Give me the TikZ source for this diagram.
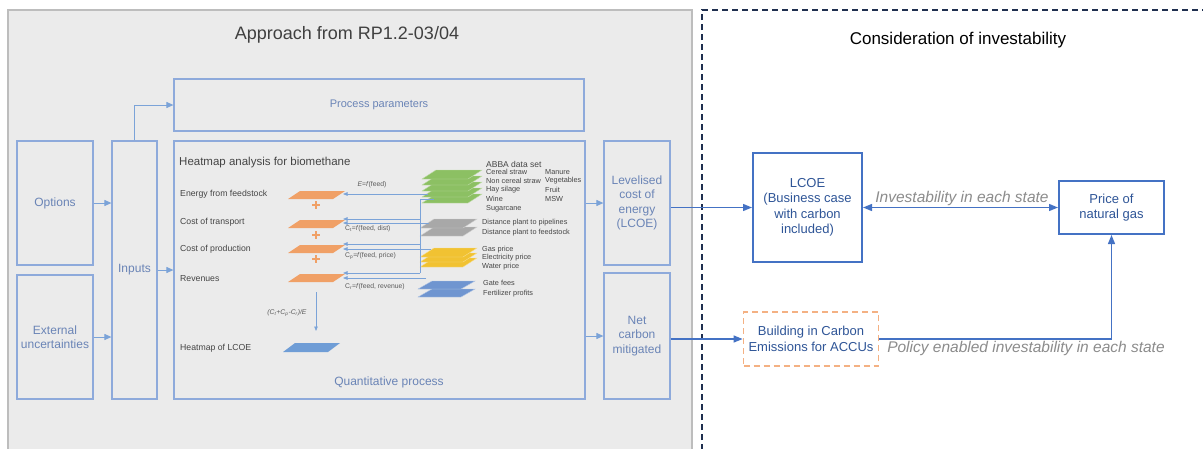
\documentclass[tikz,border=0pt]{standalone}
\usepackage{fontspec}
\setmainfont{Liberation Sans}
\usetikzlibrary{arrows.meta,calc}
\definecolor{panel}{HTML}{EBEBEB}
\definecolor{panelb}{HTML}{BDBDBD}
\definecolor{lb}{HTML}{8EAADB}
\definecolor{lbt}{HTML}{6A84B6}
\definecolor{la}{HTML}{7BA3D8}
\definecolor{db}{HTML}{4472C4}
\definecolor{dbt}{HTML}{2F5597}
\definecolor{navy}{HTML}{1F2F4F}
\definecolor{orgd}{HTML}{F4B183}
\definecolor{org}{HTML}{F0A066}
\definecolor{grn}{HTML}{8CC063}
\definecolor{gry}{HTML}{A8A8A8}
\definecolor{ylw}{HTML}{F1C232}
\definecolor{blu}{HTML}{6F95D0}
\definecolor{hblu}{HTML}{6F9DD6}
\definecolor{hl}{HTML}{454545}
\definecolor{fl}{HTML}{5A5A5A}
\definecolor{il}{HTML}{8C8C8C}
\definecolor{ttl}{HTML}{404040}
\newcommand{\fs}[2]{\fontsize{#1}{#2}\selectfont}
% parallelogram: x, ybottom, width, skew, height, style
\newcommand{\plg}[6]{\filldraw[#6] (#1,#2) -- ++(#3,0) -- ++(#4,-#5) -- ++(-#3,0) -- cycle;}
\begin{document}
\begin{tikzpicture}[x=1pt,y=-1pt,
 lbox/.style={draw=lb, line width=1.2pt, text=lbt, align=center, inner sep=0pt, font=\fs{12}{14.5}},
 dbox/.style={draw=db, line width=2pt, text=dbt, align=center, inner sep=0pt, font=\fs{13}{15.5}},
 arr/.style={draw=la, line width=1pt, -{Triangle[length=7pt,width=6pt]}},
 darr/.style={draw=db, line width=1.3pt, -{Triangle[length=9pt,width=7pt]}},
 harr/.style={draw=la, line width=0.8pt, -{Triangle[length=4.5pt,width=3.5pt]}},
 hlbl/.style={text=hl, font=\fs{8.7}{10}, anchor=west, inner sep=0pt},
 dlbl/.style={text=hl, font=\fs{7.3}{8}, anchor=west, inner sep=0pt},
 flbl/.style={text=fl, font=\fs{6.8}{8}, inner sep=0pt},
 ilbl/.style={text=il, font=\itshape\fs{15.5}{18}, inner sep=0pt},
 plus/.style={draw=org, line width=2.6pt},
 layer/.style={line width=0.4pt}
]
\useasboundingbox (0,0) rectangle (1203,448);
\begin{scope}
\clip (0,0) rectangle (1203,448);
\fill[white] (0,0) rectangle (1203,448);
% panels
\filldraw[fill=panel, draw=panelb, line width=1.5pt] (8,10) rectangle (692,470);
\draw[navy, line width=1.8pt, dash pattern=on 6pt off 4pt] (702,470) -- (702,10) -- (1215,10);
\end{scope}

\node[text=ttl, font=\fs{18}{20}] (title) at (347,35) {Approach from RP1.2-03/04};
\node[text=black, font=\fs{17}{20}] (title2) at (958,40) {Consideration of investability};

% left boxes
\node[lbox, font=\fs{11}{13}, minimum width=410pt, minimum height=52pt] (proc) at (379,105) {Process parameters};
\node[lbox, minimum width=76pt, minimum height=124pt] (opt) at (55,203) {Options};
\node[lbox, minimum width=76pt, minimum height=124pt] (ext) at (55,337) {External\\uncertainties};
\node[lbox, minimum width=45pt, minimum height=258pt] (inp) at (134.5,270) {Inputs};
\node[lbox, minimum width=411pt, minimum height=258pt] (heat) at (379.5,270) {};
\node[lbox, minimum width=66pt, minimum height=124pt] (lev) at (637,203) {Levelised\\cost of\\energy\\(LCOE)};
\node[lbox, minimum width=66pt, minimum height=126pt] (net) at (637,336) {Net\\carbon\\mitigated};
\node[text=lbt, font=\fs{12}{14}] (qp) at (389,382) {Quantitative process};

\draw[arr] (opt.east) -- (opt.east -| inp.west);
\draw[arr] (ext.east) -- (ext.east -| inp.west);
\draw[arr] (inp.east) -- (inp.east -| heat.west);
\draw[arr] (inp.north) |- (proc.west);
\draw[arr] (heat.east |- lev.west) -- (lev.west);
\draw[arr] (heat.east |- net.west) -- (net.west);

% heatmap content
\node[text=hl, font=\fs{11.5}{13}, anchor=west, inner sep=0pt] (hmt) at (179,163) {Heatmap analysis for biomethane};
\node[hlbl] (le) at (180,194) {Energy from feedstock};
\node[hlbl] (lt) at (180,222) {Cost of transport};
\node[hlbl] (lp) at (180,249) {Cost of production};
\node[hlbl] (lr) at (180,279) {Revenues};
\node[hlbl] (lh) at (180,348) {Heatmap of LCOE};

% orange parallelograms
\plg{288}{199}{45}{12}{8}{fill=org, draw=none}
\plg{288}{228}{45}{12}{8}{fill=org, draw=none}
\plg{288}{253}{45}{12}{8}{fill=org, draw=none}
\plg{288}{282}{45}{12}{8}{fill=org, draw=none}
\plg{283}{352}{45}{12}{9}{fill=hblu, draw=none}
% plus signs
\foreach \py in {205,235,259}{
  \draw[plus] (312,\py) -- (320,\py);
  \draw[plus] (316,\py-4) -- (316,\py+4);
}
% stacks
\foreach \yb in {203,197,191,185,179}{ \plg{422}{\yb}{46}{14}{9}{fill=grn, draw=grn!55!white, layer} }
\foreach \yb in {236,228}{ \plg{420}{\yb}{43}{14}{9}{fill=gry, draw=gry!55!white, layer} }
\foreach \yb in {267,262,257}{ \plg{420}{\yb}{43}{14}{9}{fill=ylw, draw=ylw!55!white, layer} }
\foreach \yb in {297,289}{ \plg{418}{\yb}{43}{14}{8}{fill=blu, draw=blu!55!white, layer} }

% stack labels
\node[text=hl, font=\fs{8.5}{10}, anchor=west, inner sep=0pt] (abba) at (486,164) {ABBA data set};
\node[dlbl] (d1) at (486,172) {Cereal straw};
\node[dlbl] (d2) at (486,181) {Non cereal straw};
\node[dlbl] (d3) at (486,190) {Hay silage};
\node[dlbl] (d4) at (486,199) {Wine};
\node[dlbl] (d5) at (486,209) {Sugarcane};
\node[dlbl] (d6) at (545,172) {Manure};
\node[dlbl] (d7) at (545,181) {Vegetables};
\node[dlbl] (d8) at (545,190) {Fruit};
\node[dlbl] (d9) at (545,199) {MSW};
\node[dlbl] (g1) at (482,223) {Distance plant to pipelines};
\node[dlbl] (g2) at (482,233) {Distance plant to feedstock};
\node[dlbl] (y1) at (482,250) {Gas price};
\node[dlbl] (y2) at (482,258) {Electricity price};
\node[dlbl] (y3) at (482,267) {Water price};
\node[dlbl] (b1) at (483,283) {Gate fees};
\node[dlbl] (b2) at (483,294) {Fertilizer profits};

% connector coordinates
\coordinate (gE) at (428,194);
\coordinate (gB) at (434,199);
\coordinate (bus0) at (420,199);
\coordinate (bus1) at (420,273);
\coordinate (gT) at (429,223);
\coordinate (gP) at (431,249);
\coordinate (gR) at (426,278);
\coordinate (pE) at (343,194);
\coordinate (pT1) at (343,219);
\coordinate (pT2) at (343,223);
\coordinate (pP1) at (343,244);
\coordinate (pP2) at (343,249);
\coordinate (pR1) at (343,273);
\coordinate (pR2) at (343,278);
\coordinate (dA) at (316,292);
\coordinate (dB) at (316,331);

\draw[harr] (gE) -- (pE);
\draw[draw=la, line width=0.8pt] (gB) -- (bus0) -- (bus1);
\draw[harr] (bus0 |- pT1) -- (pT1);
\draw[harr] (gT) -- (pT2);
\draw[harr] (bus0 |- pP1) -- (pP1);
\draw[harr] (gP) -- (pP2);
\draw[harr] (bus1) -- (pR1);
\draw[harr] (gR) -- (pR2);
\draw[harr] (dA) -- (dB);

\node[flbl] (fE) at (372,185) {\textit{E}=\textit{f}(feed)};
\node[flbl, anchor=west] (fT) at (345,229) {C\textsubscript{t}=\textit{f}(feed, dist)};
\node[flbl, anchor=west] (fP) at (345,256) {C\textsubscript{p}=\textit{f}(feed, price)};
\node[flbl, anchor=west] (fR) at (345,287) {C\textsubscript{r}=\textit{f}(feed, revenue)};
\node[flbl] (fL) at (287,313) {\textit{(C\textsubscript{t}+C\textsubscript{p}-C\textsubscript{r})/E}};

% right side
\node[dbox, minimum width=109pt, minimum height=109pt] (lcoe) at (807.5,207.5) {LCOE\\(Business case\\with carbon\\included)};
\node[dbox, minimum width=105pt, minimum height=53pt] (price) at (1111.5,207.5) {Price of\\natural gas};
\node[draw=orgd, line width=1.8pt, dash pattern=on 6pt off 4pt, text=dbt, align=center, font=\fs{13}{15.5}, minimum width=135pt, minimum height=54pt, inner sep=0pt] (build) at (811,339) {Building in Carbon\\Emissions for ACCUs};

\draw[darr] (lev.east |- lcoe.west) -- (lcoe.west);
\draw[darr] (net.east |- build.west) -- (build.west);
\draw[darr, {Triangle[length=9pt,width=7pt]}-{Triangle[length=9pt,width=7pt]}] (lcoe.east) -- (price.west);
\draw[darr] (build.east) -| (price.south);
\node[ilbl] (l1) at (962,198) {Investability in each state};
\node[ilbl] (l2) at (1026,348) {Policy enabled investability in each state};
\end{tikzpicture}
\end{document}
